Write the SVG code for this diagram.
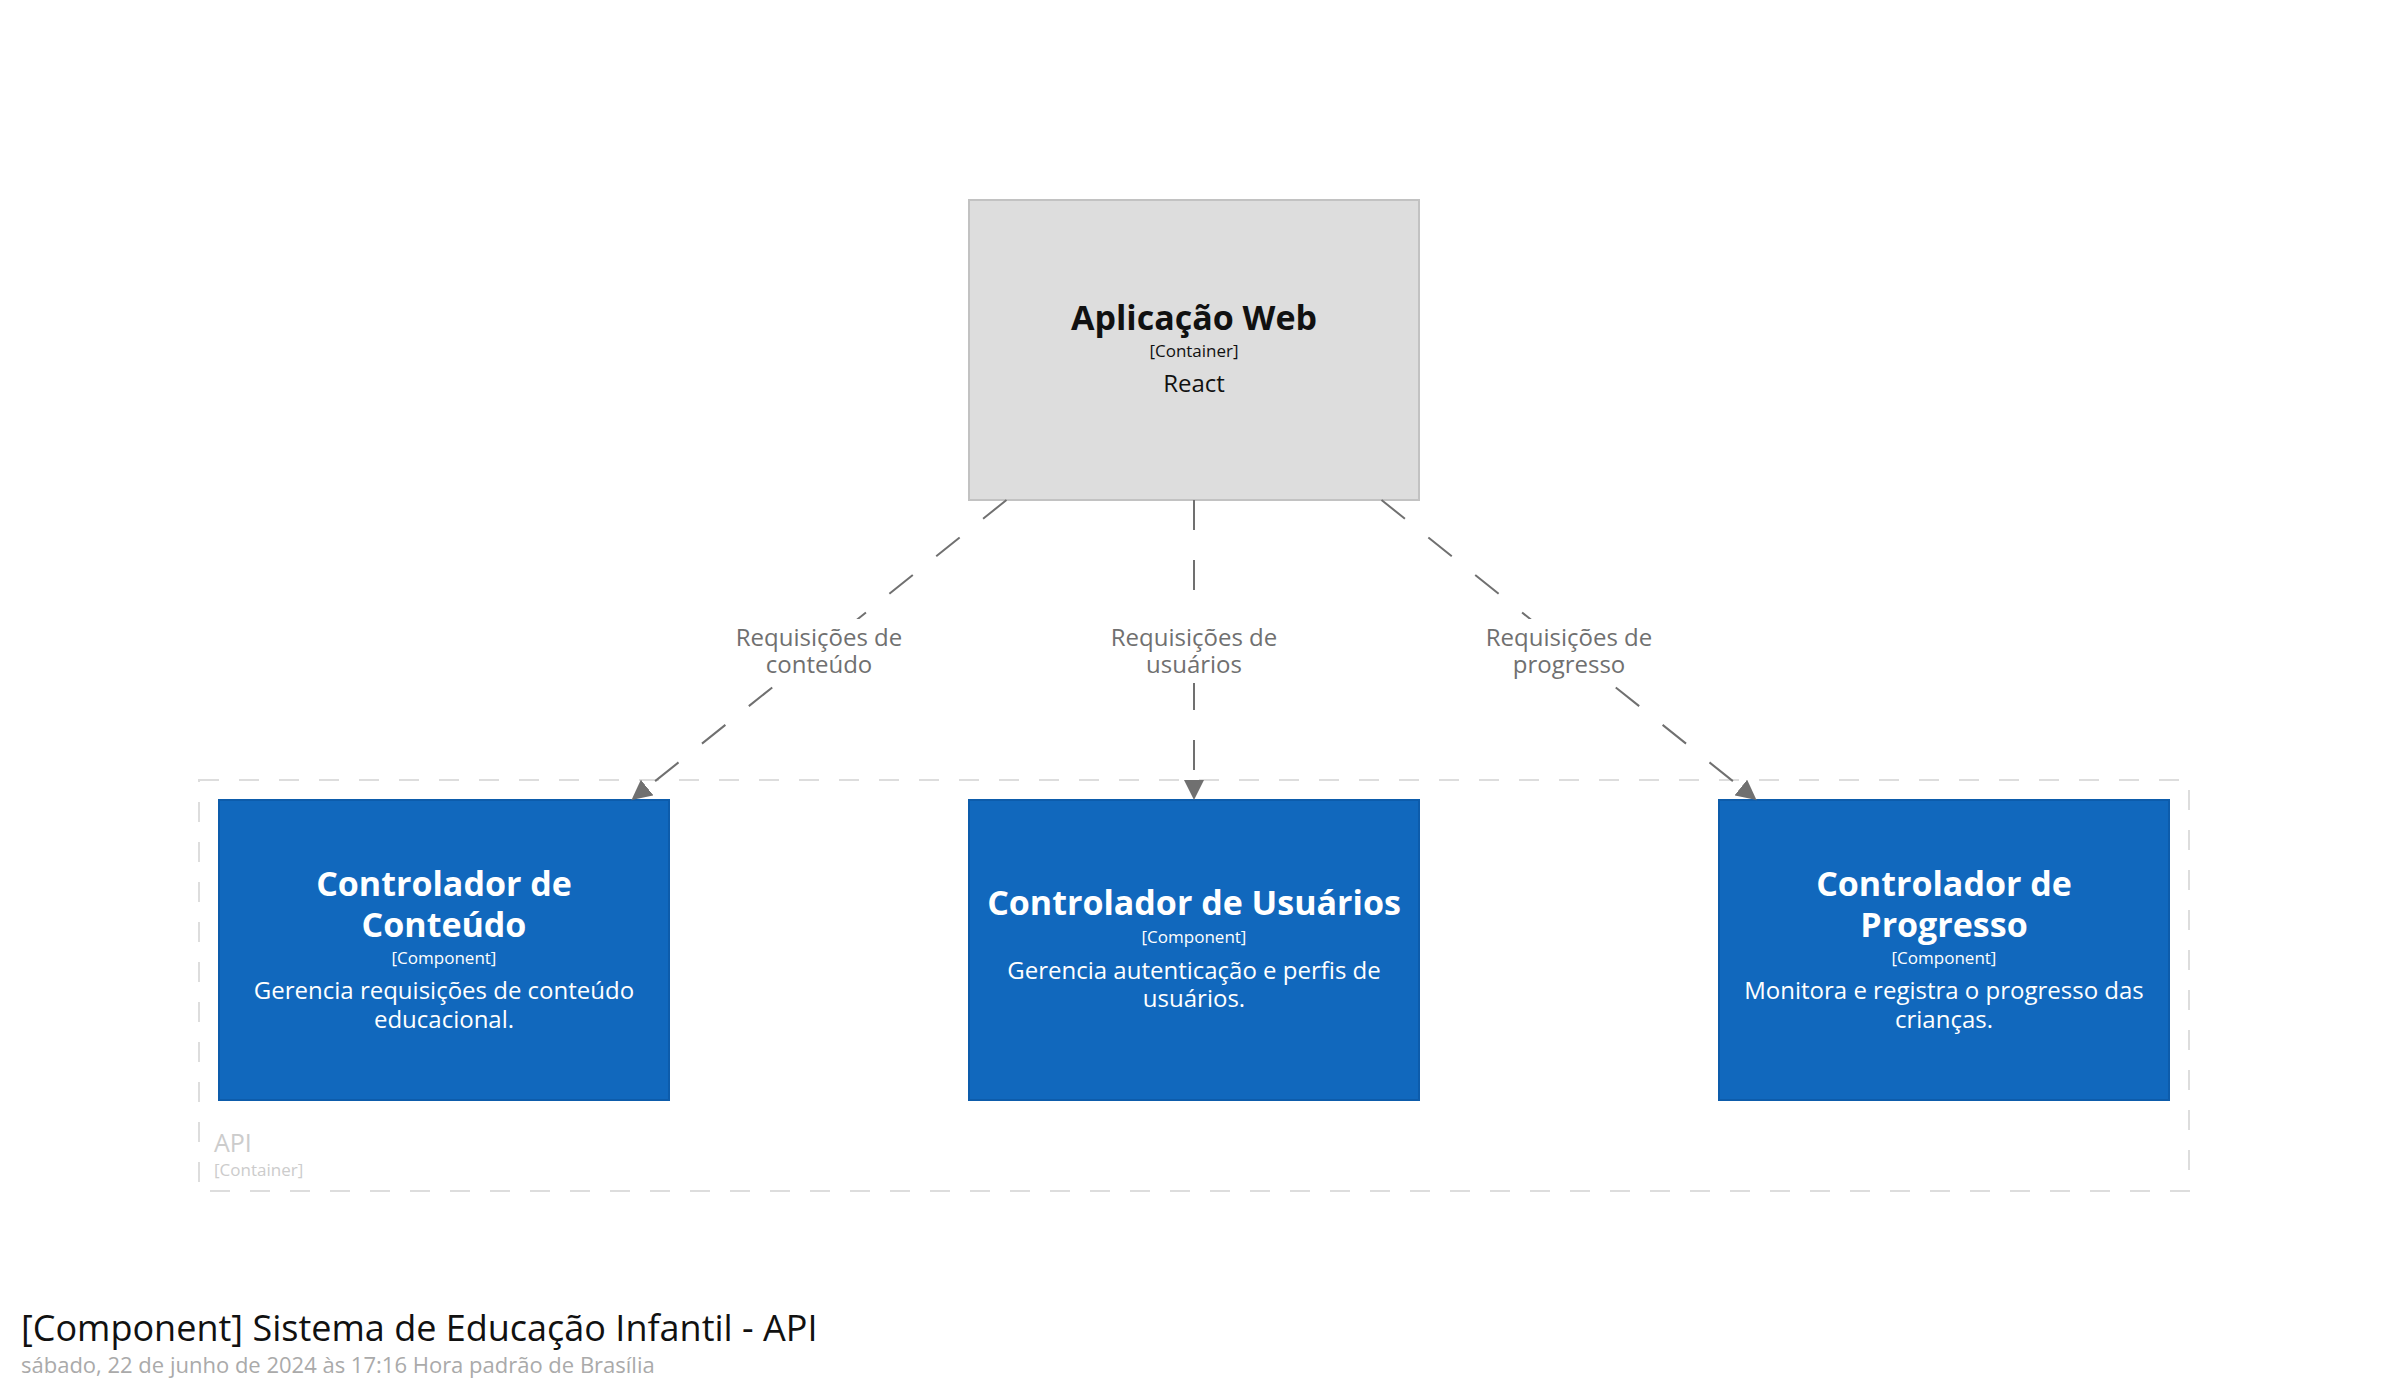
<svg xmlns="http://www.w3.org/2000/svg" width="2390" height="1391" viewBox="0 0 2390 1391">
<defs>
<style>
text{font-family:"Open Sans","Noto Sans","DejaVu Sans",sans-serif;text-anchor:middle}
.name{font-weight:bold;font-size:34px}
.meta{font-size:17px}
.desc{font-size:24px}
.comp rect{fill:#1168bd;stroke:#0d5cab;stroke-width:2}
.comp text{fill:#ffffff}
.cont rect{fill:#dddddd;stroke:#c2c2c2;stroke-width:2}
.cont text{fill:#111111}
.rel line{stroke:#707070;stroke-width:2;stroke-dasharray:30,30;fill:none}
.lbl rect{fill:#ffffff}
.lbl text{fill:#707070;font-size:24px}
</style>
<marker id="arrow" markerUnits="userSpaceOnUse" markerWidth="20" markerHeight="20" refX="20" refY="10" orient="auto" viewBox="0 0 20 20">
<path d="M0,0 L20,10 L0,20 Z" fill="#707070"/>
</marker>
</defs>
<rect width="2390" height="1391" fill="#ffffff"/>

<g id="boundary-api">
<rect x="199" y="780" width="1990" height="411" fill="none" stroke="#dddddd" stroke-width="2" stroke-dasharray="20,20"/>
<text x="214" y="1152" style="text-anchor:start;font-size:25px;fill:#cccccc">API</text>
<text x="214" y="1176" style="text-anchor:start;font-size:17px;fill:#cccccc">[Container]</text>
</g>

<g id="node-aplicacao-web" class="cont">
<rect x="969" y="200" width="450" height="300"/>
<text class="name" x="1194" y="330">Aplicação Web</text>
<text class="meta" x="1194" y="357">[Container]</text>
<text class="desc" x="1194" y="392">React</text>
</g>

<g id="node-controlador-conteudo" class="comp">
<rect x="219" y="800" width="450" height="300"/>
<text class="name" x="444" y="896">Controlador de<tspan x="444" y="937">Conteúdo</tspan></text>
<text class="meta" x="444" y="964">[Component]</text>
<text class="desc" x="444" y="999">Gerencia requisições de conteúdo<tspan x="444" y="1028">educacional.</tspan></text>
</g>

<g id="node-controlador-usuarios" class="comp">
<rect x="969" y="800" width="450" height="300"/>
<text class="name" x="1194" y="915">Controlador de Usuários</text>
<text class="meta" x="1194" y="943">[Component]</text>
<text class="desc" x="1194" y="979">Gerencia autenticação e perfis de<tspan x="1194" y="1007">usuários.</tspan></text>
</g>

<g id="node-controlador-progresso" class="comp">
<rect x="1719" y="800" width="450" height="300"/>
<text class="name" x="1944" y="896">Controlador de<tspan x="1944" y="937">Progresso</tspan></text>
<text class="meta" x="1944" y="964">[Component]</text>
<text class="desc" x="1944" y="999">Monitora e registra o progresso das<tspan x="1944" y="1028">crianças.</tspan></text>
</g>

<g id="connectors">
<g class="rel">
<line x1="1006.5" y1="500" x2="631.5" y2="800" marker-end="url(#arrow)"/>
<line x1="1194" y1="500" x2="1194" y2="800" marker-end="url(#arrow)"/>
<line x1="1381.5" y1="500" x2="1756.5" y2="800" marker-end="url(#arrow)"/>
</g>
<g class="lbl">
<rect x="733" y="619" width="173" height="64"/>
<text x="819" y="646">Requisições de<tspan x="819" y="673">conteúdo</tspan></text>
<rect x="1108" y="619" width="173" height="64"/>
<text x="1194" y="646">Requisições de<tspan x="1194" y="673">usuários</tspan></text>
<rect x="1483" y="619" width="173" height="64"/>
<text x="1569" y="646">Requisições de<tspan x="1569" y="673">progresso</tspan></text>
</g>
</g>

<g id="title">
<text x="21" y="1341" style="text-anchor:start;font-size:36px;fill:#111111">[Component] Sistema de Educação Infantil - API</text>
<text x="21" y="1373" style="text-anchor:start;font-size:22px;fill:#aaaaaa">sábado, 22 de junho de 2024 às 17:16 Hora padrão de Brasília</text>
</g>
</svg>
